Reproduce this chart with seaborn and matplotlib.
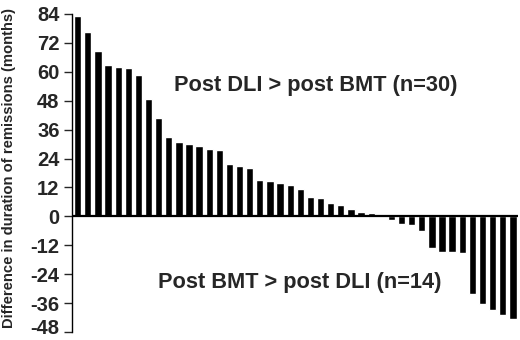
import pandas as pd
import seaborn as sns
import matplotlib.pyplot as plt
from matplotlib.transforms import ScaledTranslation

# difference in remission duration (post DLI - post BMT), sorted, months
positive = [83.3, 76.6, 68.7, 63.0, 61.9, 61.5, 58.7, 48.9, 41.0, 32.9,
            30.8, 30.0, 29.4, 27.9, 27.5, 21.9, 20.8, 20.1, 14.9, 14.7,
            13.7, 12.9, 11.4, 8.1, 7.5, 5.4, 4.9, 3.2, 1.8, 1.3]
zero = [0.0]
negative = [-1.5, -3.2, -3.5, -6.2, -13.2, -14.6, -14.9, -15.3,
            -32.2, -36.4, -39.0, -40.9, -42.5]
y_ticks = list(range(-48, 85, 12))
label_top = "Post DLI > post BMT (n=30)"
label_bottom = "Post BMT > post DLI (n=14)"
y_label = "Difference in duration of remissions (months)"

values = positive + zero + negative
df = pd.DataFrame({"patient": range(len(values)), "diff": values})

sns.set_style("white")
plt.rcParams["font.family"] = ["Liberation Sans", "DejaVu Sans"]
plt.rcParams["font.weight"] = "bold"

fig = plt.figure(figsize=(5.2, 3.4), dpi=100)
ax = fig.add_axes([0.1385, 0.0235, 0.8575, 0.9355])
sns.barplot(data=df, x="patient", y="diff", color="black", width=0.72,
            saturation=1, ax=ax)

ax.axhline(0, color="black", lw=1.6, zorder=3)
ax.set_xlim(-0.56, len(values) - 0.5)
ax.set_ylim(-48, 84)
ax.set_yticks(y_ticks)
ax.set_yticklabels([str(t) for t in y_ticks], fontsize=14.5, fontweight="bold")
ax.set_xticks([])
ax.set_xlabel("")
ax.set_ylabel("")
ax.tick_params(axis="y", direction="out", length=6, width=1, pad=3, left=True)
for side in ["top", "right", "bottom"]:
    ax.spines[side].set_visible(False)
ax.spines["left"].set_linewidth(1)
ax.spines["left"].set_color("black")

# nudge the lowest tick label up so it stays inside the figure
low = ax.get_yticklabels()[0]
low.set_transform(low.get_transform() + ScaledTranslation(0, 4 / 72, fig.dpi_scale_trans))

fig.text(0.017, 0.505, y_label, rotation=90, ha="center", va="center",
         fontsize=10.6, fontweight="bold")
fig.text(0.608, 0.75, label_top, ha="center", va="center",
         fontsize=15.7, fontweight="bold")
fig.text(0.577, 0.168, label_bottom, ha="center", va="center",
         fontsize=15.7, fontweight="bold")

fig.savefig("out.png", dpi=100)
